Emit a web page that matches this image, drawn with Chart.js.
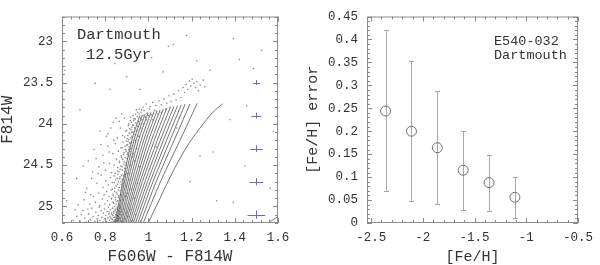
<!DOCTYPE html>
<html>
<head>
<meta charset="utf-8">
<script src="https://cdn.jsdelivr.net/npm/chart.js@4.4.1/dist/chart.umd.min.js"></script>
<style>
html, body { margin: 0; padding: 0; background: #fff; }
#wrap { position: relative; width: 600px; height: 265px; }
.panel { position: absolute; top: 0; width: 300px; height: 265px; }
</style>
</head>
<body>
<div id="wrap">
  <div class="panel" style="left:0"><canvas id="cmdChart" width="300" height="265"></canvas></div>
  <div class="panel" style="left:300px"><canvas id="errChart" width="300" height="265"></canvas></div>
</div>
<script>
// ---- left panel: CMD ----
const cmdXTicks = [0.6, 0.8, 1, 1.2, 1.4, 1.6];
const cmdYTicks = [23, 23.5, 24, 24.5, 25];

// stars (colour, magnitude)
const stars = [
  // faint end
  [0.652,25.17],[0.668,25.12],[0.684,25.18],[0.697,25.05],[0.705,25.14],[0.712,25.19],[0.723,25.09],[0.731,25.16],
  [0.738,25.02],[0.744,25.12],[0.752,25.18],[0.757,25.07],[0.763,25.15],[0.768,25.11],[0.772,25.01],[0.776,25.17],
  [0.781,25.05],[0.785,25.13],[0.789,25.19],[0.792,25.08],[0.796,25.03],[0.799,25.15],[0.803,25.11],[0.806,25.18],
  [0.809,25.06],[0.812,25.14],[0.815,25.01],[0.817,25.09],[0.82,25.17],[0.822,25.12],[0.825,25.04],[0.827,25.19],
  [0.829,25.08],[0.831,25.15],[0.834,25.02],[0.836,25.11],[0.838,25.18],[0.84,25.06],[0.842,25.13],[0.844,25.16],
  [0.846,25.03],[0.848,25.1],[0.85,25.19],[0.852,25.07],[0.854,25.14],[0.856,25.01],[0.858,25.12],[0.86,25.05],
  [0.862,25.17],[0.864,25.09],[0.867,25.02],[0.87,25.14],[0.873,25.06],[0.876,25.18],[0.88,25.1],[0.885,25.03],
  [0.89,25.15],[0.897,25.08],[0.905,25.12],[0.915,25.04],[0.928,25.17],[0.94,25.1],
  // 24.6 - 25.0
  [0.702,24.92],[0.715,24.78],[0.728,24.97],[0.737,24.66],[0.746,24.88],[0.755,24.95],[0.762,24.72],[0.769,24.84],
  [0.775,24.99],[0.781,24.62],[0.786,24.91],[0.79,24.77],[0.795,24.86],[0.799,24.97],[0.803,24.69],[0.807,24.82],
  [0.811,24.93],[0.814,24.74],[0.818,24.88],[0.821,24.98],[0.824,24.65],[0.827,24.8],[0.83,24.91],[0.833,24.71],
  [0.836,24.85],[0.839,24.96],[0.841,24.63],[0.844,24.78],[0.847,24.89],[0.849,24.68],[0.852,24.83],[0.854,24.94],
  [0.857,24.73],[0.859,24.61],[0.862,24.87],[0.864,24.77],[0.867,24.66],[0.869,24.81],[0.872,24.7],[0.875,24.62],
  [0.877,24.76],[0.88,24.67],[0.883,24.72],[0.886,24.64],[0.889,24.69],[0.893,24.61],[0.897,24.75],[0.902,24.84],
  [0.91,24.68],[0.92,24.79],[0.935,24.9],[0.95,24.72],
  // 24.2 - 24.6
  [0.722,24.45],[0.748,24.31],[0.771,24.52],[0.789,24.38],[0.801,24.56],[0.812,24.27],[0.82,24.48],[0.828,24.59],
  [0.835,24.36],[0.841,24.5],[0.847,24.24],[0.852,24.43],[0.857,24.57],[0.861,24.33],[0.865,24.47],[0.869,24.55],
  [0.873,24.29],[0.876,24.41],[0.879,24.52],[0.882,24.22],[0.885,24.37],[0.888,24.46],[0.891,24.58],[0.894,24.31],
  [0.896,24.5],[0.899,24.26],[0.901,24.42],[0.904,24.35],[0.906,24.21],[0.909,24.39],[0.911,24.28],[0.914,24.33],
  [0.916,24.24],[0.919,24.3],[0.922,24.22],[0.926,24.27],[0.93,24.36],[0.937,24.45],[0.946,24.3],[0.96,24.52],
  // upper main sequence
  [0.812,24.12],[0.838,23.98],[0.856,24.17],[0.87,24.05],[0.881,24.14],[0.889,23.93],[0.896,24.09],[0.902,24.18],
  [0.907,24.02],[0.912,24.11],[0.916,23.96],[0.92,24.07],[0.924,24.15],[0.927,24.01],[0.93,24.1],[0.933,23.94],
  [0.936,24.05],[0.939,24.13],[0.942,23.99],[0.945,24.08],[0.948,23.91],[0.951,24.03],[0.954,23.97],[0.957,23.88],
  [0.96,24.0],[0.963,23.93],[0.966,23.86],[0.97,23.95],[0.975,23.9],[0.98,23.84],[0.986,23.92],[0.995,23.87],
  [1.005,23.82],[1.015,23.89],[1.03,23.84],
  // turnoff and subgiants
  [0.975,23.8],[0.99,23.76],[1.008,23.79],[1.02,23.74],[1.035,23.78],[1.048,23.72],[1.06,23.77],[1.072,23.7],
  [1.085,23.75],[1.095,23.66],[1.105,23.73],[1.118,23.64],[1.128,23.71],[1.14,23.6],[1.15,23.68],[1.16,23.56],
  [1.168,23.62],[1.175,23.52],[1.182,23.58],[1.19,23.48],[1.196,23.54],[1.203,23.46],[1.21,23.51],[1.218,23.56],
  [1.225,23.49],[1.232,23.6],[1.24,23.53],[1.255,23.47],[1.262,23.55],
  // field
  [0.761,22.96],[0.614,23.35],[0.845,23.27],[1.069,23.37],[1.092,23.06],[1.115,23.04],[1.285,23.35],[1.393,22.97],
  [1.421,23.22],[1.486,23.33],[1.525,23.11],[1.455,23.78],[1.378,23.95],[1.3,24.34],[1.447,24.51],[1.316,24.93],
  [1.393,24.95],[1.193,24.7],[0.9,23.43],[0.753,23.51],[0.683,23.83],[0.699,24.51],[0.668,24.66],[0.622,24.93],
  [0.776,24.09],[0.822,23.58],[0.961,23.58],[1.015,23.2],[1.224,23.24],[1.177,22.93],[1.578,24.09],[1.563,24.78],
  [1.239,24.39],[1.131,24.05],[1.038,24.28]
];

// dense ridge along the blue edge of the isochrones, plus fringe and in-between stars
const ridgeStars = [
  [0.833,25.16],[0.841,25.13],[0.847,25.18],[0.853,25.11],[0.839,25.08],[0.846,25.05],[0.855,25.03],[0.861,25.15],
  [0.832,25.1],[0.826,25.14],[0.818,25.06],[0.843,25.0],[0.851,24.97],[0.836,24.95],[0.858,24.93],[0.829,24.9],
  [0.847,24.92],[0.862,24.89],[0.838,24.87],[0.855,24.85],[0.871,24.86],[0.844,24.82],[0.86,24.8],[0.833,24.79],
  [0.866,24.77],[0.851,24.75],[0.874,24.73],[0.842,24.71],[0.861,24.7],[0.878,24.68],[0.855,24.66],[0.869,24.64],
  [0.884,24.62],[0.846,24.6],[0.864,24.58],[0.879,24.56],[0.89,24.54],[0.858,24.53],[0.872,24.51],[0.887,24.49],
  [0.897,24.47],[0.866,24.45],[0.881,24.43],[0.893,24.41],[0.874,24.39],[0.902,24.37],[0.887,24.35],[0.897,24.33],
  [0.908,24.31],[0.879,24.29],[0.892,24.27],[0.903,24.25],[0.913,24.23],[0.898,24.21],[0.909,24.19],[0.918,24.17],
  [0.89,24.16],[0.905,24.14],[0.915,24.12],[0.923,24.1],[0.9,24.08],[0.913,24.06],[0.924,24.04],[0.931,24.02],
  [0.909,24.0],[0.921,23.98],[0.932,23.96],[0.939,23.94],[0.918,23.92],[0.929,23.9],[0.941,23.88],[0.95,23.86],
  [0.944,23.83],[0.958,23.82],[0.969,23.83],
  [0.66,25.04],[0.675,24.98],[0.69,25.1],[0.708,24.83],[0.72,25.03],[0.733,24.86],[0.742,24.58],[0.758,24.42],
  [0.767,24.6],[0.78,24.25],[0.794,24.47],[0.806,24.15],[0.818,24.34],[0.826,24.05],[0.84,24.2],[0.85,23.93],
  [0.865,23.97],[0.877,23.88],
  [0.87,25.0],[0.882,24.92],[0.895,24.88],[0.905,24.6],[0.918,24.5],[0.925,24.4],[0.94,24.2],[0.955,24.15],
  [0.965,24.05],[0.978,24.0],[0.99,23.95],[1.0,23.9],[1.02,23.95],[1.045,23.88],[1.06,23.86],[1.08,23.82],[1.1,23.8]
];

// Dartmouth 12.5 Gyr isochrones
const isochrones = [
  [[0.845,25.2],[0.882,24.7],[0.923,24.2],[0.960,23.90]],
  [[0.850,25.2],[0.889,24.7],[0.933,24.2],[0.972,23.89]],
  [[0.855,25.2],[0.897,24.7],[0.943,24.2],[0.985,23.88]],
  [[0.861,25.2],[0.905,24.7],[0.954,24.2],[0.998,23.87]],
  [[0.868,25.2],[0.914,24.7],[0.966,24.2],[1.012,23.86]],
  [[0.875,25.2],[0.923,24.7],[0.978,24.2],[1.026,23.85]],
  [[0.882,25.2],[0.933,24.7],[0.989,24.2],[1.040,23.84]],
  [[0.889,25.2],[0.942,24.7],[1.001,24.2],[1.054,23.83]],
  [[0.896,25.2],[0.951,24.7],[1.014,24.2],[1.069,23.82]],
  [[0.904,25.2],[0.962,24.7],[1.027,24.2],[1.085,23.81]],
  [[0.912,25.2],[0.972,24.7],[1.041,24.2],[1.101,23.80]],
  [[0.921,25.2],[0.984,24.7],[1.055,24.2],[1.118,23.79]],
  [[0.930,25.2],[0.996,24.7],[1.069,24.2],[1.135,23.78]],
  [[0.940,25.2],[1.008,24.7],[1.084,24.2],[1.152,23.77]],
  [[0.951,25.2],[1.021,24.7],[1.100,24.2],[1.170,23.76]],
  [[0.963,25.2],[1.036,24.7],[1.119,24.2],[1.192,23.76]],
  [[0.976,25.2],[1.056,24.7],[1.146,24.2],[1.226,23.75]],
  [[0.999,25.2],[1.054,24.9],[1.115,24.57],[1.177,24.28],[1.239,24.05],[1.300,23.855],[1.344,23.757]],
  [[1.552,25.2],[1.62,25.09]]
];

// photometric errors shown at colour 1.5
const photMag = [23.5, 23.9, 24.3, 24.7, 25.1];
const photColErr = [0.017, 0.023, 0.029, 0.032, 0.041];
const photMagErr = [0.03, 0.036, 0.04, 0.044, 0.05];

// ---- right panel: [Fe/H] error ----
const fehTicks = [-2.5, -2, -1.5, -1, -0.5];
const errTicks = [0, 0.05, 0.1, 0.15, 0.2, 0.25, 0.3, 0.35, 0.4, 0.45];
const feh = [-2.36, -2.11, -1.86, -1.61, -1.36, -1.11];
const fehErr = [0.244, 0.200, 0.164, 0.115, 0.088, 0.056];
const errLow = [0.070, 0.049, 0.041, 0.029, 0.026, 0.011];
const errHigh = [0.421, 0.354, 0.287, 0.200, 0.149, 0.100];

Chart.defaults.font.family = "'Liberation Mono', 'DejaVu Sans Mono', monospace";
Chart.defaults.color = "#333";

// box with inward ticks on all four sides, like gnuplot
function frameTicks(xMinor, xMajor, yMinor, yMajor) {
  return {
    id: "frameTicks",
    afterDatasetsDraw(chart) {
      const { ctx, chartArea: a, scales: { x, y } } = chart;
      const isMajor = (v, m) => Math.abs(v / m - Math.round(v / m)) < 1e-6;
      ctx.save();
      ctx.strokeStyle = "#8a8a8a";
      ctx.lineWidth = 1;
      ctx.beginPath();
      const x0 = Math.min(x.min, x.max), x1 = Math.max(x.min, x.max);
      for (let i = Math.ceil(x0 / xMinor - 1e-6); i * xMinor <= x1 + 1e-6; i++) {
        const v = i * xMinor;
        const px = Math.round(x.getPixelForValue(v)) + 0.5;
        const len = isMajor(v, xMajor) ? 5 : 3;
        ctx.moveTo(px, a.bottom); ctx.lineTo(px, a.bottom - len);
        ctx.moveTo(px, a.top); ctx.lineTo(px, a.top + len);
      }
      const y0 = Math.min(y.min, y.max), y1 = Math.max(y.min, y.max);
      for (let i = Math.ceil(y0 / yMinor - 1e-6); i * yMinor <= y1 + 1e-6; i++) {
        const v = i * yMinor;
        const py = Math.round(y.getPixelForValue(v)) + 0.5;
        const len = isMajor(v, yMajor) ? 5 : 3;
        ctx.moveTo(a.left, py); ctx.lineTo(a.left + len, py);
        ctx.moveTo(a.right, py); ctx.lineTo(a.right - len, py);
      }
      ctx.stroke();
      ctx.strokeRect(a.left + 0.5, a.top + 0.5, a.width - 1, a.height - 1);
      ctx.restore();
    }
  };
}

function fixTicks(list) {
  return (scale) => { scale.ticks = list.map(v => ({ value: v })); };
}

const photErrBars = {
  id: "photErrBars",
  afterDatasetsDraw(chart) {
    const { ctx, scales: { x, y } } = chart;
    ctx.save();
    ctx.strokeStyle = "#6a6acc";
    ctx.lineWidth = 1;
    ctx.beginPath();
    photMag.forEach((m, i) => {
      const cx = Math.round(x.getPixelForValue(1.5)) + 0.5, cy = Math.round(y.getPixelForValue(m)) + 0.5;
      const xl = x.getPixelForValue(1.5 - photColErr[i]), xr = x.getPixelForValue(1.5 + photColErr[i]);
      const yt = y.getPixelForValue(m - photMagErr[i]), yb = y.getPixelForValue(m + photMagErr[i]);
      ctx.moveTo(xl, cy); ctx.lineTo(xr, cy);
      ctx.moveTo(cx, yt); ctx.lineTo(cx, yb);
    });
    ctx.stroke();
    ctx.restore();
  }
};

const cmdLabels = {
  id: "cmdLabels",
  afterDraw(chart) {
    const { ctx, chartArea: a } = chart;
    ctx.save();
    ctx.fillStyle = "#333";
    ctx.font = "15.5px 'Liberation Mono', monospace";
    ctx.textBaseline = "middle";
    ctx.fillText("Dartmouth", a.left + 15, a.top + 18);
    ctx.fillText("12.5Gyr", a.left + 24, a.top + 38);
    ctx.restore();
  }
};

const cmdDatasets = isochrones.map(iso => ({
  type: "line",
  data: iso.map(p => ({ x: p[0], y: p[1] })),
  borderColor: "#3a3a3a",
  borderWidth: 0.7,
  pointRadius: 0,
  tension: 0.3,
  fill: false
}));
cmdDatasets.unshift({
  type: "scatter",
  data: stars.concat(ridgeStars).map(p => ({ x: p[0], y: p[1] })),
  pointRadius: 0.8,
  pointBorderWidth: 0,
  backgroundColor: "rgba(95,95,95,0.75)"
});

new Chart(document.getElementById("cmdChart"), {
  type: "scatter",
  data: { datasets: cmdDatasets },
  options: {
    responsive: false,
    animation: false,
    events: [],
    layout: { padding: { left: 0, top: 7, right: 22, bottom: 0 } },
    plugins: { legend: { display: false }, tooltip: { enabled: false } },
    scales: {
      x: {
        type: "linear", min: 0.6, max: 1.6,
        afterBuildTicks: fixTicks(cmdXTicks),
        afterFit: (s) => { s.height = 42; },
        grid: { display: false, drawTicks: false },
        border: { display: false },
        ticks: { padding: 7, autoSkip: false, maxRotation: 0, font: { size: 12.5 }, callback: v => String(v) },
        title: { display: true, text: "F606W - F814W", font: { size: 16, lineHeight: 1 }, padding: 0 }
      },
      y: {
        type: "linear", min: 22.7, max: 25.2, reverse: true,
        afterBuildTicks: fixTicks(cmdYTicks),
        afterFit: (s) => { s.width = 62; },
        grid: { display: false, drawTicks: false },
        border: { display: false },
        ticks: { padding: 9, autoSkip: false, font: { size: 12.5 }, callback: v => String(v) },
        title: { display: true, text: "F814W", font: { size: 16, lineHeight: 1 }, padding: 0 }
      }
    }
  },
  plugins: [frameTicks(0.04, 0.2, 0.1, 0.5), photErrBars, cmdLabels]
});

// ---- right chart ----
const fehErrBars = {
  id: "fehErrBars",
  beforeDatasetsDraw(chart) {
    const { ctx, scales: { x, y } } = chart;
    ctx.save();
    ctx.strokeStyle = "#a8a8a8";
    ctx.lineWidth = 1;
    ctx.beginPath();
    feh.forEach((f, i) => {
      const cx = Math.round(x.getPixelForValue(f)) + 0.5;
      const yt = Math.round(y.getPixelForValue(errHigh[i])) + 0.5;
      const yb = Math.round(y.getPixelForValue(errLow[i])) + 0.5;
      ctx.moveTo(cx, yt); ctx.lineTo(cx, yb);
      ctx.moveTo(cx - 2.5, yt); ctx.lineTo(cx + 2.5, yt);
      ctx.moveTo(cx - 2.5, yb); ctx.lineTo(cx + 2.5, yb);
    });
    ctx.stroke();
    ctx.restore();
  }
};

const errLabels = {
  id: "errLabels",
  afterDraw(chart) {
    const { ctx, chartArea: a } = chart;
    ctx.save();
    ctx.fillStyle = "#333";
    ctx.font = "13.5px 'Liberation Mono', monospace";
    ctx.textBaseline = "middle";
    ctx.fillText("E540-032", a.left + 127, a.top + 24.5);
    ctx.fillText("Dartmouth", a.left + 127, a.top + 39);
    ctx.restore();
  }
};

new Chart(document.getElementById("errChart"), {
  type: "scatter",
  data: {
    datasets: [{
      data: feh.map((f, i) => ({ x: f, y: fehErr[i] })),
      pointRadius: 5,
      pointBorderWidth: 1,
      borderColor: "#707070",
      backgroundColor: "rgba(255,255,255,0)"
    }]
  },
  options: {
    responsive: false,
    animation: false,
    events: [],
    layout: { padding: { left: 0, top: 7, right: 17, bottom: 0 } },
    plugins: { legend: { display: false }, tooltip: { enabled: false } },
    scales: {
      x: {
        type: "linear", min: -2.54, max: -0.5,
        afterBuildTicks: fixTicks(fehTicks),
        afterFit: (s) => { s.height = 42; },
        grid: { display: false, drawTicks: false },
        border: { display: false },
        ticks: { padding: 7, autoSkip: false, maxRotation: 0, font: { size: 12.5 }, callback: v => String(v) },
        title: { display: true, text: "[Fe/H]", font: { size: 15, lineHeight: 1 }, padding: 0 }
      },
      y: {
        type: "linear", min: 0, max: 0.45,
        afterBuildTicks: fixTicks(errTicks),
        afterFit: (s) => { s.width = 67; },
        grid: { display: false, drawTicks: false },
        border: { display: false },
        ticks: { padding: 9, autoSkip: false, font: { size: 12.5 }, callback: v => String(v) },
        title: { display: true, text: "[Fe/H] error", font: { size: 15, lineHeight: 1 }, padding: { top: 6, bottom: 0 } }
      }
    }
  },
  plugins: [frameTicks(0.1, 0.5, 0.01, 0.05), fehErrBars, errLabels]
});
</script>
</body>
</html>
